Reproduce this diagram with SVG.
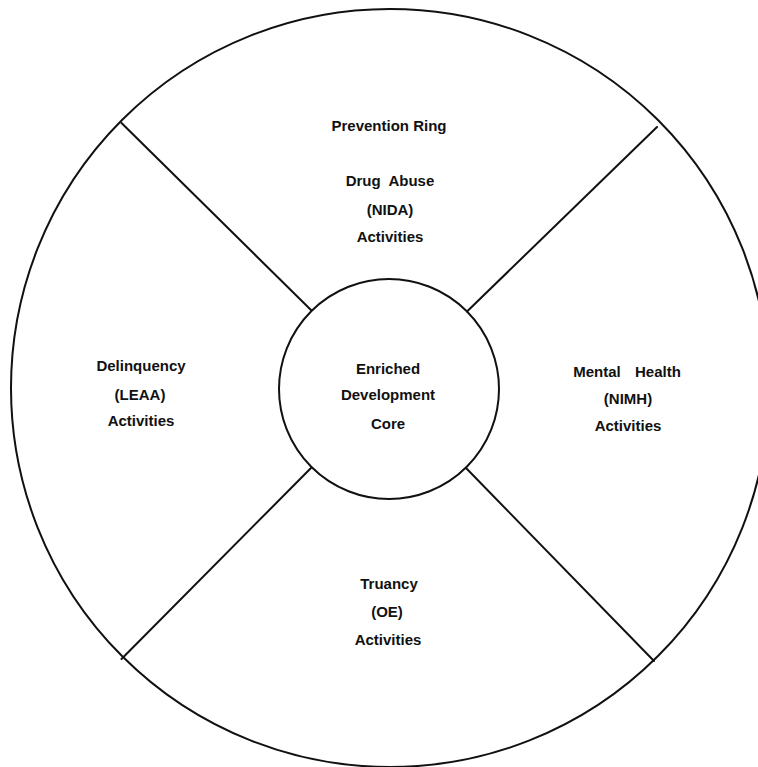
<svg xmlns="http://www.w3.org/2000/svg" width="758" height="767" viewBox="0 0 758 767">
  <style>
    .shape { fill: none; stroke: #111; stroke-width: 2; }
    .div { stroke: #111; stroke-width: 2; stroke-linecap: round; }
    .lbl { font-family: "Liberation Sans", Arial, sans-serif; font-size: 15px; font-weight: bold; fill: #111; text-anchor: middle; }
  </style>
  <rect width="758" height="767" fill="#fff"/>
  <g id="prevention-ring">
    <circle class="shape" cx="390" cy="388" r="379"/>
    <text class="lbl" x="389" y="131">Prevention Ring</text>
  </g>
  <g id="connectors">
    <line class="div" x1="121.5" y1="123" x2="311" y2="310"/>
    <line class="div" x1="657" y1="127" x2="467" y2="311.5"/>
    <line class="div" x1="121.5" y1="659" x2="311" y2="468"/>
    <line class="div" x1="654" y1="661" x2="466" y2="468"/>
  </g>
  <g id="core">
    <circle class="shape" cx="389" cy="389" r="110" stroke-width="2.3"/>
    <text class="lbl" x="388" y="374">Enriched</text>
    <text class="lbl" x="388" y="400">Development</text>
    <text class="lbl" x="388" y="429">Core</text>
  </g>
  <g id="drug-abuse">
    <text class="lbl" x="390" y="186" xml:space="preserve">Drug  Abuse</text>
    <text class="lbl" x="390" y="215">(NIDA)</text>
    <text class="lbl" x="390" y="241.5">Activities</text>
  </g>
  <g id="delinquency">
    <text class="lbl" x="141" y="371">Delinquency</text>
    <text class="lbl" x="140" y="400">(LEAA)</text>
    <text class="lbl" x="141" y="426">Activities</text>
  </g>
  <g id="mental-health">
    <text class="lbl" x="627" y="377" xml:space="preserve" word-spacing="3">Mental  Health</text>
    <text class="lbl" x="628" y="404">(NIMH)</text>
    <text class="lbl" x="628" y="430.5">Activities</text>
  </g>
  <g id="truancy">
    <text class="lbl" x="389" y="589">Truancy</text>
    <text class="lbl" x="387" y="617">(OE)</text>
    <text class="lbl" x="388" y="645">Activities</text>
  </g>
</svg>
